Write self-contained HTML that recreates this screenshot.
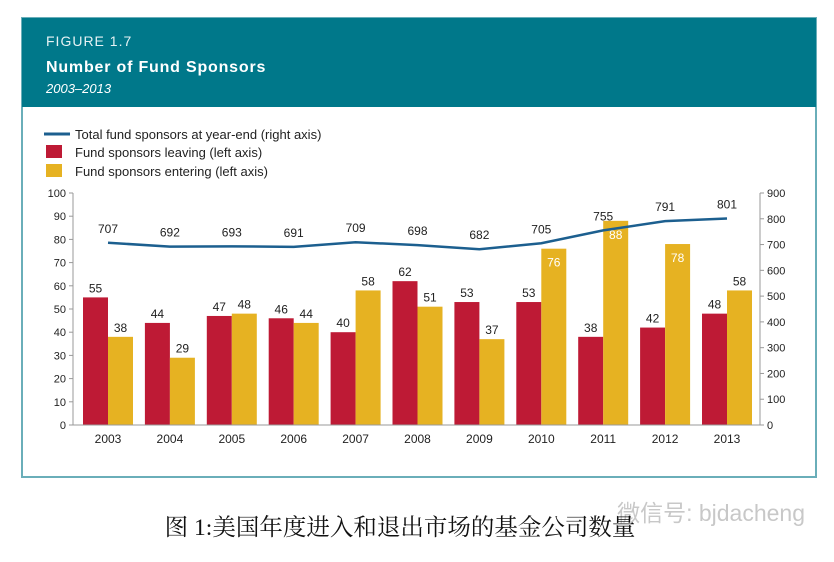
<!DOCTYPE html>
<html><head><meta charset="utf-8"><style>
body{margin:0;background:#fff;width:834px;height:557px;overflow:hidden;font-family:"Liberation Sans",sans-serif}
svg text{font-family:"Liberation Sans",sans-serif}
</style></head><body>
<svg width="834" height="557">
<rect x="22" y="18" width="794" height="459" fill="#fff" stroke="#6aaeb9" stroke-width="2"/>
<rect x="22" y="18" width="794" height="89" fill="#00788a"/>
<text x="46" y="46" fill="#e6f2f4" font-size="14" letter-spacing="1">FIGURE 1.7</text>
<text x="46" y="72" fill="#fff" font-size="16" font-weight="bold" letter-spacing="0.8">Number of Fund Sponsors</text>
<text x="46" y="93" fill="#fff" font-size="13" font-style="italic">2003–2013</text>
<g>
<line x1="44" y1="134" x2="70" y2="134" stroke="#1c5f8f" stroke-width="3"/>
<text x="75" y="139" font-size="13" fill="#222">Total fund sponsors at year-end (right axis)</text>
<rect x="46" y="145" width="16" height="13" fill="#be1a35"/>
<text x="75" y="157" font-size="13" fill="#222">Fund sponsors leaving (left axis)</text>
<rect x="46" y="164" width="16" height="13" fill="#e6b222"/>
<text x="75" y="176" font-size="13" fill="#222">Fund sponsors entering (left axis)</text>
</g>
<g id="plot"></g>
<text x="805" y="521" text-anchor="end" font-size="23" fill="#c8c8c8">微信号: bjdacheng</text>
<text x="400" y="535" text-anchor="middle" font-size="23.5" fill="#111" style="font-family:'Liberation Serif','Noto Serif CJK SC',serif">图  1:美国年度进入和退出市场的基金公司数量</text>
</svg>
<script>
const years=["2003","2004","2005","2006","2007","2008","2009","2010","2011","2012","2013"];
const leaving=[55,44,47,46,40,62,53,53,38,42,48];
const entering=[38,29,48,44,58,51,37,76,88,78,58];
const totals=[707,692,693,691,709,698,682,705,755,791,801];
const leftTicks=[0,10,20,30,40,50,60,70,80,90,100];
const rightTicks=[0,100,200,300,400,500,600,700,800,900];
const NS="http://www.w3.org/2000/svg";
const g=document.getElementById('plot');
const X0=73,X1=760,Y0=425,Y1=193;
const yL=v=>Y0-(v/100)*(Y0-Y1);
const yR=v=>Y0-(v/900)*(Y0-Y1);
const xc=i=>108+i*61.9;
const BW=25;
function mk(tag,attrs){const e=document.createElementNS(NS,tag);for(const k in attrs)e.setAttribute(k,attrs[k]);g.appendChild(e);return e;}
let e;
e=mk('line',{x1:X0,y1:Y1,x2:X0,y2:Y0,stroke:'#999'});


e=mk('line',{x1:X1,y1:Y1,x2:X1,y2:Y0,stroke:'#999'});


leftTicks.forEach(v=>{
 e=mk('line',{x1:X0-4,x2:X0,y1:yL(v),y2:yL(v),stroke:'#999'});
 
 
 e=mk('text',{x:X0-7,y:yL(v)+4,'text-anchor':'end','font-size':11,fill:'#222'});e.textContent=v;
 
 
});
rightTicks.forEach(v=>{
 e=mk('line',{x1:X1,x2:X1+4,y1:yR(v),y2:yR(v),stroke:'#999'});
 
 
 e=mk('text',{x:X1+7,y:yR(v)+4,'font-size':11,fill:'#222'});e.textContent=v;
 
 
});
years.forEach((y,i)=>{
 const c=xc(i);
 e=mk('rect',{x:c-BW,y:yL(leaving[i]),width:BW,height:Y0-yL(leaving[i]),fill:'#be1a35'});
 
 
 e=mk('rect',{x:c,y:yL(entering[i]),width:BW,height:Y0-yL(entering[i]),fill:'#e6b222'});
 
 
 e=mk('text',{x:c-BW/2,y:yL(leaving[i])-5,'text-anchor':'middle','font-size':12,fill:'#222'});e.textContent=leaving[i];
 
 
 const inside=entering[i]>=70;
 e=mk('text',{x:c+BW/2,y:inside?yL(entering[i])+18:yL(entering[i])-5,'text-anchor':'middle','font-size':12,fill:inside?'#fff':'#222'});e.textContent=entering[i];
 
 
 e=mk('text',{x:c,y:443,'text-anchor':'middle','font-size':12,fill:'#222'});e.textContent=y;
 
 
});
e=mk('line',{x1:X0,y1:Y0,x2:X1,y2:Y0,stroke:'#999'});


e=mk('polyline',{points:totals.map((v,i)=>xc(i)+','+yR(v)).join(' '),fill:'none',stroke:'#1c5f8f','stroke-width':2.5});


totals.forEach((v,i)=>{
 e=mk('text',{x:xc(i),y:yR(v)-10,'text-anchor':'middle','font-size':12,fill:'#222'});e.textContent=v;
 
 
});
</script>
</body></html>
